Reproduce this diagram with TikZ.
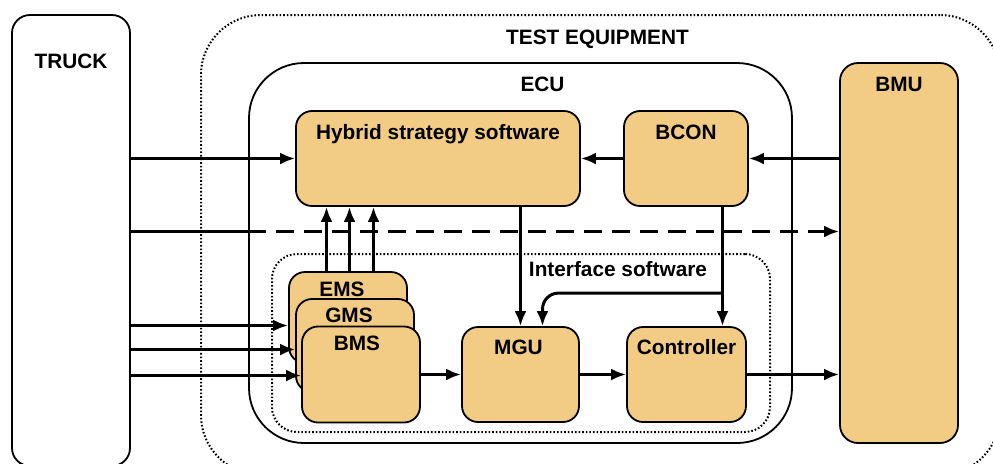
\documentclass[tikz,border=0pt]{standalone}
\usepackage{fontspec}
\setmainfont{Liberation Sans}
\usetikzlibrary{arrows.meta,calc}
\definecolor{boxfill}{RGB}{242,204,132}
\tikzset{
  frame/.style={draw, line width=0.9pt, inner sep=0pt},
  dotframe/.style={frame, line width=1pt, dash pattern=on 0.8pt off 1pt},
  box/.style={frame, fill=boxfill, rounded corners=8pt},
  ttl/.style={anchor=center, inner sep=0pt, text height=7.4pt, text depth=0pt,
    font=\fontsize{10.4}{12}\selectfont\bfseries},
  arr/.style={line width=1.5pt, -{Latex[length=7.5pt,width=6pt]}},
}
\begin{document}
\begin{tikzpicture}[x=0.5pt,y=-0.5pt]
    \useasboundingbox (0,0) rectangle (993,463);
    % outer frames
    \node[dotframe, rounded corners=30pt, minimum width=399.5pt, minimum height=230pt,
      label={[ttl, yshift=-11.5pt, xshift=-1.5pt]north:TEST EQUIPMENT}] (test) at (600.5,245) {};
    \node[frame, rounded corners=9pt, minimum width=59pt, minimum height=225.5pt,
      label={[ttl, yshift=-23.5pt]north:TRUCK}] (truck) at (71,240.5) {};
    \node[frame, rounded corners=27.5pt, minimum width=271.5pt, minimum height=190pt,
      label={[ttl, yshift=-11pt, xshift=11pt]north:ECU}] (ecu) at (520.5,253) {};
    \node[dotframe, rounded corners=12.5pt, minimum width=249pt, minimum height=89pt,
      label={[ttl, yshift=-8pt, xshift=48.5pt]north:Interface software}] (intf) at (521,343) {};

    % blocks
    \node[box, minimum width=142pt, minimum height=47.5pt,
      label={[ttl, yshift=-11pt]north:Hybrid strategy software}] (hyb) at (438,158.5) {};
    \node[box, minimum width=62pt, minimum height=47.5pt,
      label={[ttl, yshift=-11pt]north:BCON}] (bcon) at (686,158.5) {};
    \node[box, rounded corners=9pt, minimum width=59pt, minimum height=190pt,
      label={[ttl, yshift=-11pt]north:BMU}] (bmu) at (899,253) {};
    \node[box, minimum width=59pt, minimum height=45.5pt,
      label={[ttl, yshift=-9pt, xshift=-3pt]north:EMS}] (ems) at (348,317.5) {};
    \node[box, minimum width=59pt, minimum height=46.5pt,
      label={[ttl, yshift=-8.5pt, xshift=-3pt]north:GMS}] (gms) at (355,345.5) {};
    \node[box, minimum width=59pt, minimum height=48pt,
      label={[ttl, yshift=-8.75pt, xshift=-2pt]north:BMS}] (bms) at (361,374.5) {};
    \node[box, minimum width=58.5pt, minimum height=47.5pt,
      label={[ttl, yshift=-10.5pt, xshift=-1pt]north:MGU}] (mgu) at (520.5,374.5) {};
    \node[box, minimum width=59.5pt, minimum height=47.5pt,
      label={[ttl, yshift=-10.5pt]north:Controller}] (ctrl) at (686.5,374.5) {};

    \coordinate (dash) at (0,231.5);

    % signals from the truck
    \draw[arr] (truck.east |- hyb.west) -- (hyb.west);
    \draw[line width=1.5pt] (truck.east |- dash) -- (ecu.west |- dash);
    \draw[arr, dash pattern=on 9pt off 5pt] (ecu.west |- dash) -- (bmu.west |- dash);
    \draw[arr] ([yshift=-4pt]truck.east |- ems.west) -- ([yshift=-4pt]ems.west);
    \draw[arr] ([yshift=-2pt]truck.east |- gms.west) -- ([yshift=-2pt]gms.west);
    \draw[arr] ([yshift=-0.5pt]truck.east |- bms.west) -- ([yshift=-0.5pt]bms.west);

    % EMS/GMS/BMS to strategy
    \foreach \dx in {-10.75pt,0.75pt,12.75pt}
      \draw[arr] ([xshift=\dx]ems.north) -- ([xshift=\dx]ems.north |- hyb.south);

    % BMU and BCON
    \draw[arr] (bmu.west |- bcon.east) -- (bcon.east);
    \draw[arr] (bcon.west) -- (hyb.east);

    % strategy and controller chain
    \draw[arr] (hyb.south -| mgu.north) -- (mgu.north);
    \draw[arr] ([xshift=18.25pt]bcon.south) -- coordinate[pos=0.723] (split) ([xshift=18.25pt]bcon.south |- ctrl.north);
    \draw[arr, rounded corners=8pt] (split) -| ([xshift=11pt]mgu.north);
    \draw[arr] (bms.east) -- (mgu.west);
    \draw[arr] (mgu.east) -- (ctrl.west);
    \draw[arr] (ctrl.east) -- (bmu.west |- ctrl.east);
\end{tikzpicture}
\end{document}
